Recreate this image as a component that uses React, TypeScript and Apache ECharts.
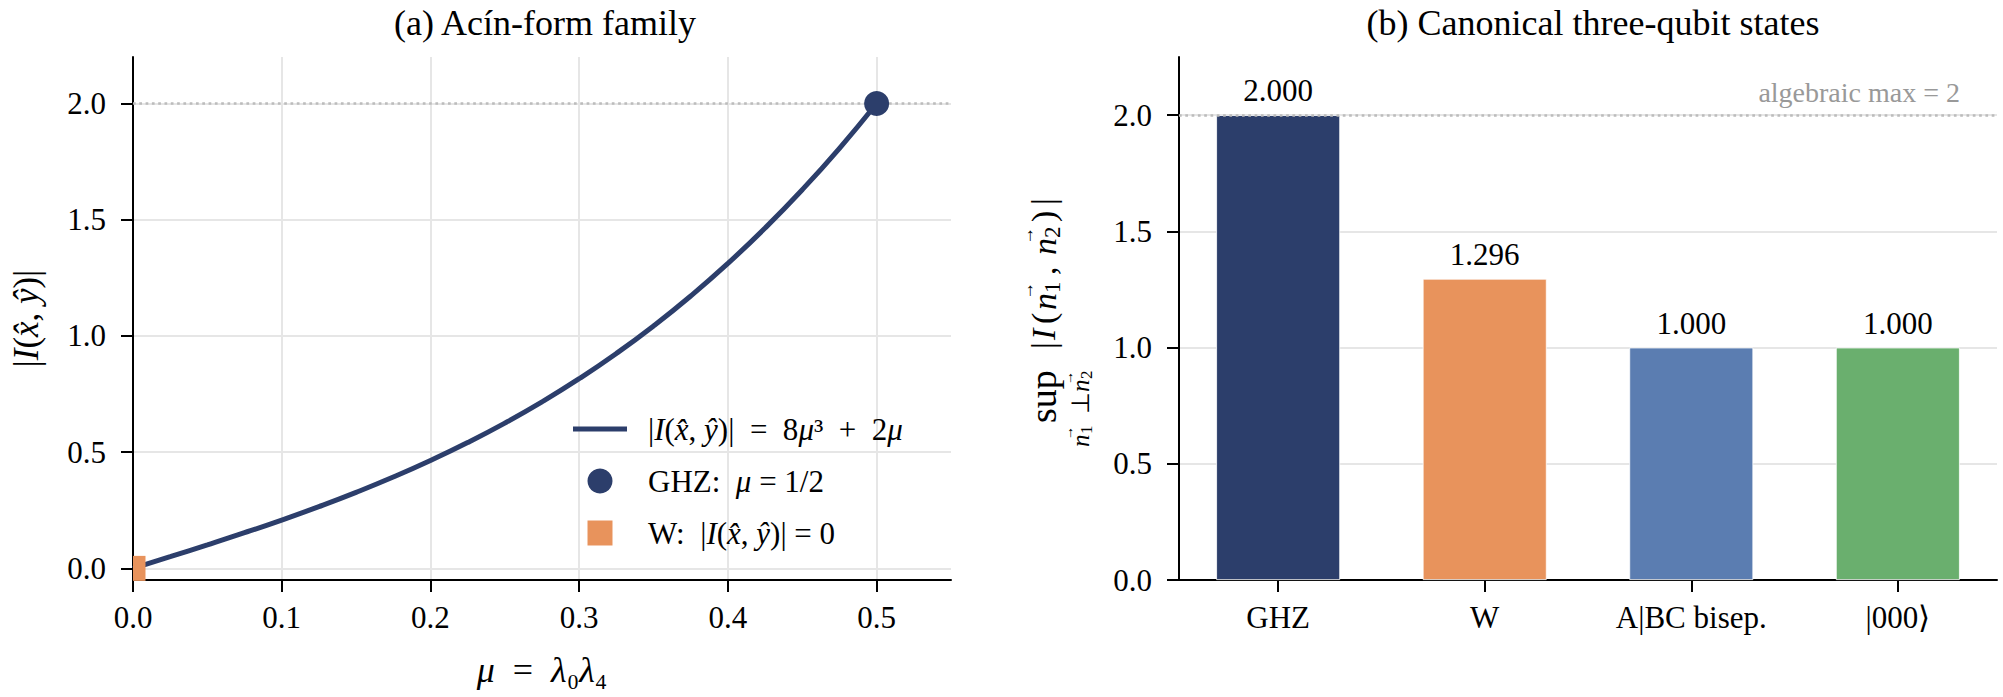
import React, { useEffect, useRef } from "react";
import * as echarts from "echarts";

const SERIF = "Liberation Serif";

// Panel (a): |I(x̂,ŷ)| along the Acín-form family, sampled in mu
const muValues = [
  0, 0.025, 0.05, 0.075, 0.1, 0.125, 0.15, 0.175, 0.2, 0.225, 0.25, 0.275,
  0.3, 0.325, 0.35, 0.375, 0.4, 0.425, 0.45, 0.475, 0.5,
];
const curveValues = [
  0, 0.050125, 0.101, 0.153375, 0.208, 0.265625, 0.327, 0.392875, 0.464,
  0.541125, 0.625, 0.716375, 0.816, 0.924625, 1.043, 1.171875, 1.312,
  1.464125, 1.629, 1.807375, 2.0,
];
const ghzPoint = [0.5, 2.0];
const wPoint = [0, 0];
const xTicksA = [0, 0.1, 0.2, 0.3, 0.4, 0.5];
const yTicks = [0, 0.5, 1.0, 1.5, 2.0];

// Panel (b): supremum over orthogonal measurement directions
const stateNames = ["GHZ", "W", "A|BC bisep.", "|000⟩"];
const stateIndex = [0, 1, 2, 3];
const supValues = [2.0, 1.296, 1.0, 1.0];
const algebraicMax = 2;

const NAVY = "#2c3e6b";
const ORANGE = "#e8935c";
const BLUE = "#5b7db1";
const GREEN = "#6aaf6e";
const barColors = [NAVY, ORANGE, BLUE, GREEN];

const CURVE_NAME = "|I(x̂, ŷ)| = 8μ³ + 2μ";
const GHZ_NAME = "GHZ: μ = 1/2";
const W_NAME = "W: |I(x̂, ŷ)| = 0";

const legendRich: Record<string, string> = {
  [CURVE_NAME]: "{r||}{i|I}{r|(}{i|x̂}{r|, }{i|ŷ}{r|)|  =  8}{i|μ}{r|³  +  2}{i|μ}",
  [GHZ_NAME]: "{r|GHZ:  }{i|μ}{r| = 1/2}",
  [W_NAME]: "{r|W:  |}{i|I}{r|(}{i|x̂}{r|, }{i|ŷ}{r|)| = 0}",
};

const roman = (size: number, color = "#000") => ({ fontFamily: SERIF, fontSize: size, color });
const italic = (size: number) => ({ fontFamily: SERIF, fontSize: size, fontStyle: "italic", color: "#000" });

// Rotated label of panel (b): sup over n1 ⊥ n2 of |I(n1, n2)|.
// Each piece: [text, along, across, fontSize, italic]
type Piece = [string, number, number, number, boolean];
const supLabelPieces: Piece[] = [
  ["sup", 24, 0, 38, false],
  ["n", 0, 37, 25, true],
  ["→", 7, 25, 14, false],
  ["1", 13, 43, 17, false],
  ["⊥", 33, 37, 25, false],
  ["n", 55, 37, 25, true],
  ["→", 62, 25, 14, false],
  ["2", 68, 43, 17, false],
  ["|", 98, 0, 34, false],
  ["I", 107, 0, 34, true],
  ["(", 123, 0, 34, false],
  ["n", 137, 1, 34, true],
  ["→", 147, -16, 18, false],
  ["1", 154, 9, 23, false],
  [",", 172, 1, 34, false],
  ["n", 192, 1, 34, true],
  ["→", 202, -16, 18, false],
  ["2", 209, 9, 23, false],
  [")", 225, 0, 34, false],
  ["|", 242, 0, 34, false],
];

export default function App() {
  const ref = useRef<HTMLDivElement>(null);

  useEffect(() => {
    document.body.style.margin = "0";
    if (!ref.current) return;
    const chart = echarts.init(ref.current, undefined, { renderer: "svg" });

    const axisLine = { show: true, onZero: false, lineStyle: { color: "#000", width: 2 } };
    const grid = { show: true, lineStyle: { color: "#e6e6e6", width: 2 } };
    const dotted = { color: "#bcbcbc", width: 2.5, type: [2.7, 3.6] };
    const tick = (values: number[]) => ({
      show: true,
      length: 12,
      lineStyle: { width: 2, color: "#000" },
      customValues: values,
    });
    const numLabel = (values: number[], margin: number) => ({
      fontFamily: SERIF,
      fontSize: 31,
      color: "#000",
      margin,
      customValues: values,
      formatter: (v: number) => `{t|${v.toFixed(1)}}`,
      rich: { t: roman(31) },
    });
    const titleStyle = {
      fontSize: 36,
      fontWeight: "normal",
      fontFamily: SERIF,
      color: "#000",
      rich: { t: roman(36) },
    };

    chart.setOption({
      animation: false,
      backgroundColor: "#fff",
      textStyle: { fontFamily: SERIF },
      title: [
        { text: "{t|(a) Acín-form family}", left: 540, top: 0, textAlign: "center", textStyle: titleStyle },
        { text: "{t|(b) Canonical three-qubit states}", left: 1588, top: 0, textAlign: "center", textStyle: titleStyle },
      ],
      grid: [
        { left: 133, right: 1052, top: 57, bottom: 117 },
        { left: 1179, right: 6, top: 57, bottom: 117 },
      ],
      legend: {
        data: [
          { name: CURVE_NAME, icon: "path://M0,0H54V5H0Z" },
          { name: GHZ_NAME, icon: "circle" },
          { name: W_NAME, icon: "path://M0,0H10V10H0Z" },
        ],
        orient: "vertical",
        left: 568,
        top: 407,
        itemWidth: 54,
        itemHeight: 25,
        itemGap: 18,
        symbolKeepAspect: true,
        selectedMode: false,
        formatter: (name: string) => legendRich[name] || name,
        textStyle: {
          fontSize: 31,
          fontFamily: SERIF,
          color: "#000",
          lineHeight: 34,
          padding: [0, 0, 0, 16],
          rich: { i: italic(31), r: roman(31) },
        },
      },
      xAxis: [
        {
          type: "value",
          gridIndex: 0,
          min: 0,
          max: 0.55,
          axisLine,
          axisTick: tick(xTicksA),
          axisLabel: numLabel(xTicksA, 22),
          splitLine: grid,
          name: "{i|μ}{r|  =  }{i|λ}{r|₀}{i|λ}{r|₄}",
          nameLocation: "middle",
          nameGap: 72,
          nameTextStyle: {
            fontSize: 36,
            fontFamily: SERIF,
            color: "#000",
            rich: { i: italic(36), r: roman(36) },
          },
        },
        {
          type: "value",
          gridIndex: 1,
          min: -0.48,
          max: 3.48,
          axisLine,
          axisTick: tick(stateIndex),
          axisLabel: {
            fontFamily: SERIF,
            fontSize: 31,
            color: "#000",
            margin: 22,
            customValues: stateIndex,
            formatter: (v: number) => `{t|${stateNames[Math.round(v)] ?? ""}}`,
            rich: { t: roman(31) },
          },
          splitLine: { show: false },
        },
      ],
      yAxis: [
        {
          type: "value",
          gridIndex: 0,
          min: -0.05,
          max: 2.2,
          axisLine,
          axisTick: tick(yTicks),
          axisLabel: numLabel(yTicks, 27),
          splitLine: grid,
          name: "{r||}{i|I}{r|(}{i|x̂}{r|, }{i|ŷ}{r|)|}",
          nameLocation: "middle",
          nameRotate: 90,
          nameGap: 89,
          nameTextStyle: {
            fontSize: 35,
            fontFamily: SERIF,
            color: "#000",
            rich: { i: italic(35), r: roman(35) },
          },
        },
        {
          type: "value",
          gridIndex: 1,
          min: 0,
          max: 2.25,
          axisLine,
          axisTick: tick(yTicks),
          axisLabel: numLabel(yTicks, 27),
          splitLine: grid,
        },
      ],
      graphic: [
        {
          type: "group",
          x: 1043,
          y: 447,
          rotation: Math.PI / 2,
          children: supLabelPieces.map(([text, along, across, size, it]) => ({
            type: "text",
            x: along,
            y: across,
            style: {
              text,
              fontSize: size,
              fontFamily: SERIF,
              fontStyle: it ? "italic" : "normal",
              fill: "#000",
              align: "left",
              verticalAlign: "middle",
            },
          })),
        },
      ],
      series: [
        {
          name: CURVE_NAME,
          type: "line",
          xAxisIndex: 0,
          yAxisIndex: 0,
          data: muValues.map((m, i) => [m, curveValues[i]]),
          symbol: "none",
          smooth: true,
          lineStyle: { color: NAVY, width: 5 },
          itemStyle: { color: NAVY },
          z: 3,
          markLine: {
            silent: true,
            symbol: ["none", "none"],
            label: { show: false },
            lineStyle: dotted,
            data: [{ yAxis: algebraicMax }],
            z: 2,
          },
        },
        {
          name: GHZ_NAME,
          type: "scatter",
          xAxisIndex: 0,
          yAxisIndex: 0,
          data: [ghzPoint],
          symbol: "circle",
          symbolSize: 25,
          itemStyle: { color: NAVY, opacity: 1 },
          z: 4,
        },
        {
          name: W_NAME,
          type: "scatter",
          xAxisIndex: 0,
          yAxisIndex: 0,
          data: [wPoint],
          symbol: "rect",
          // half of the square falls outside the plot area and is cut at the axis
          symbolSize: [12.5, 25],
          symbolOffset: [6.25, 0],
          itemStyle: { color: ORANGE, opacity: 1 },
          z: 5,
        },
        {
          name: "sup",
          type: "bar",
          xAxisIndex: 1,
          yAxisIndex: 1,
          barWidth: "60%",
          data: stateIndex.map((i) => ({
            value: [i, supValues[i]],
            itemStyle: { color: barColors[i], borderColor: "#fff", borderWidth: 0.8 },
          })),
          label: {
            show: true,
            position: "top",
            distance: 9,
            fontSize: 31,
            fontFamily: SERIF,
            color: "#000",
            formatter: (p: any) => `{t|${Number(p.value[1]).toFixed(3)}}`,
            rich: { t: roman(31) },
          },
          z: 3,
          markLine: {
            silent: true,
            symbol: ["none", "none"],
            lineStyle: dotted,
            label: {
              show: true,
              position: "insideEndTop",
              formatter: "{t|algebraic max = 2}",
              color: "#999",
              fontSize: 28,
              fontFamily: SERIF,
              distance: [37, 9],
              rich: { t: roman(28, "#999") },
            },
            data: [{ yAxis: algebraicMax }],
          },
        },
      ],
    });

    return () => chart.dispose();
  }, []);

  return (
    <div
      ref={ref}
      style={{ position: "absolute", left: 0, top: 0, width: 2003, height: 697, background: "#fff" }}
    />
  );
}
